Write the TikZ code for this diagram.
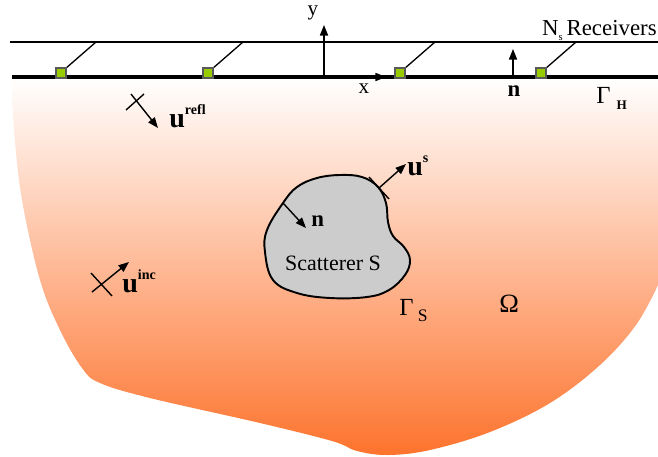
\documentclass[tikz,border=0pt]{standalone}
\usepackage{fontspec}
\setmainfont{Liberation Serif}
\usetikzlibrary{arrows.meta}

\definecolor{rcvgreen}{RGB}{153,204,0}
\definecolor{blobgray}{RGB}{204,204,204}
\definecolor{domorange}{RGB}{253,115,45}

\newcommand{\wavelab}[2]{{\fontsize{16}{16}\selectfont\bfseries #1}\raisebox{1.25ex}{\fontsize{8}{8}\selectfont\bfseries #2}}

\begin{document}
\begin{tikzpicture}[x=0.02cm, y=-0.02cm,
          every node/.style={inner sep=0pt, font=\fontsize{12}{12}\selectfont},
          vec/.style={line width=0.8pt, -{Triangle[length=6pt,width=4.6pt]}},
          mark line/.style={line width=0.8pt},
          receiver/.style={draw=black!65, line width=0.7pt, fill=rcvgreen,
            minimum width=0.2cm, minimum height=0.2cm},
          blob/.style={draw, line width=1.1pt, fill=blobgray},
        ]
          \useasboundingbox (0,0) rectangle (658,456);
          % domain Omega
          \shade[top color=white, bottom color=domorange]
            plot[smooth, tension=0.6] coordinates {(658,285) (636,325) (600,365) (550,403)
              (490,432) (430,450) (388,455) (357,451) (332,441) (260,423) (150,398)
              (100,383) (82,368) (60,330) (40,280) (22,200) (14,130) (12,78)}
            -- (658,78) -- cycle;
          % receiver line and surface
          \coordinate (topL) at (10,42);
          \coordinate (topR) at (658,42);
          \coordinate (gL)   at (12,77);
          \coordinate (gR)   at (658,77);
          \draw[line width=0.75pt] (topL) -- (topR);
          \draw[line width=1.8pt] (gL) -- (gR);
          \foreach \i/\x in {1/61, 2/208, 3/400, 4/541} {
            \coordinate (t\i) at (\x+35,42);
            \draw[line width=0.75pt] (\x+4,69) -- (t\i);
            \node[receiver] (r\i) at (\x,73) {};
          }
          \node[anchor=base east, font=\fontsize{13}{13}\selectfont] (rlab) at (657,36)
            {N\raisebox{-0.45ex}{\fontsize{6}{6}\selectfont s}\,Receivers};
          % axes
          \coordinate (o)    at (324,77);
          \coordinate (yend) at (324,25);
          \coordinate (xs)   at (336,77);
          \coordinate (xe)   at (386,77);
          \draw[vec] (o) -- (yend);
          \draw[vec] (xs) -- (xe);
          \node[anchor=base] (ylab) at (313,16) {y};
          \node[anchor=base] (xlab) at (364,93) {x};
          % normal on Gamma_H
          \coordinate (nb) at (513,77);
          \coordinate (nt) at (513,49);
          \draw[vec] (nb) -- (nt);
          \node[anchor=base, font=\fontsize{13}{13}\selectfont\bfseries] (nlab) at (514,96) {n};
          \node[anchor=base west, font=\fontsize{14}{14}\selectfont] (gH) at (596,103)
            {Γ\hspace{3.5pt}\raisebox{-0.6ex}{\fontsize{7.5}{7.5}\selectfont\bfseries H}};
          % reflected wave
          \coordinate (rc1) at (126,110);
          \coordinate (rc2) at (144,94);
          \coordinate (ra1) at (131,94);
          \coordinate (ra2) at (158,128);
          \draw[mark line] (rc1) -- (rc2);
          \draw[vec] (ra1) -- (ra2);
          \node[anchor=base west] (urefl) at (169,127) {\wavelab{u}{refl}};
          % incident wave
          \coordinate (ic1) at (91,273);
          \coordinate (ic2) at (112,296);
          \coordinate (ia1) at (92,292);
          \coordinate (ia2) at (129,262);
          \draw[mark line] (ic1) -- (ic2);
          \draw[vec] (ia1) -- (ia2);
          \node[anchor=base west] (uinc) at (122,292) {\wavelab{u}{inc}};
          % scatterer
          \draw[blob] plot[smooth cycle, tension=0.65] coordinates {(283,203) (267,230)
            (265,252) (273,280) (297,293) (330,298) (367,297) (389,290) (405,275)
            (410,260) (404,247) (393,236) (388,222) (386,203) (378,187) (362,177)
            (340,175) (317,178) (297,187)};
          \node[anchor=base, font=\fontsize{12.5}{12.5}\selectfont] (slab) at (333,270) {Scatterer S};
          \coordinate (sn1) at (283,203);
          \coordinate (sn2) at (306,228);
          \draw[vec] (sn1) -- (sn2);
          \node[anchor=base west, font=\fontsize{13}{13}\selectfont\bfseries] (snlab) at (311,226) {n};
          \coordinate (sc1) at (369,177);
          \coordinate (sc2) at (389,199);
          \coordinate (sa1) at (379,188);
          \coordinate (sa2) at (406,164);
          \draw[mark line] (sc1) -- (sc2);
          \draw[vec] (sa1) -- (sa2);
          \node[anchor=base west] (us) at (407,175) {\wavelab{u}{s}};
          \node[anchor=base west, font=\fontsize{14}{14}\selectfont] (gS) at (399,315)
            {Γ\hspace{2.5pt}\raisebox{-0.6ex}{\fontsize{10}{10}\selectfont S}};
          \node[anchor=base west, font=\fontsize{15}{15}\selectfont] (omega) at (499,312) {Ω};
        \end{tikzpicture}
\end{document}
